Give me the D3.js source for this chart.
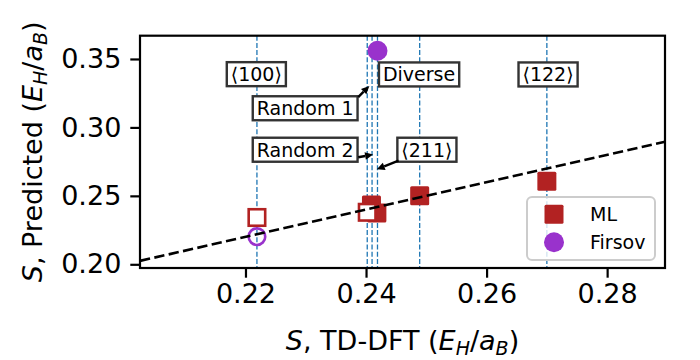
<!DOCTYPE html>
<html>
<head>
<meta charset="utf-8">
<script src="https://cdn.jsdelivr.net/npm/d3@7"></script>
<style>
  body { margin: 0; background: #fff; }
  svg text { font-family: "DejaVu Sans", sans-serif; }
</style>
</head>
<body>
<svg id="chart" width="700" height="360"></svg>
<script>
// ---- data ----
var xTicks = [0.22, 0.24, 0.26, 0.28];
var yTicks = [0.20, 0.25, 0.30, 0.35];

// ML predictions, filled squares
var mlX = [0.2409, 0.2418, 0.2489, 0.2700];
var mlY = [0.2433, 0.2375, 0.2501, 0.2607];
// ML, open squares
var mlOpenX = [0.2219, 0.2402];
var mlOpenY = [0.2342, 0.2380];
// Firsov, filled and open circles
var firsovX = [0.2419];
var firsovY = [0.3560];
var firsovOpenX = [0.2219];
var firsovOpenY = [0.2202];

// TD-DFT reference values (vertical guides)
var refX = [0.2219, 0.2402, 0.2410, 0.2419, 0.2489, 0.2700];

// parity line y = x
var parityX = [0.2025, 0.2896];

// labels: text centre, optional arrow (tail -> head), data coords
var labelText = ["\u27E8100\u27E9", "Diverse", "Random 1", "Random 2", "\u27E8211\u27E9", "\u27E8122\u27E9"];
var labelX = [0.2218, 0.2488, 0.2299, 0.2299, 0.2501, 0.2702];
var labelY = [0.3389, 0.3387, 0.3140, 0.2837, 0.2837, 0.3387];
var arrowFrom = [null, null, [0.2387, 0.3222], [0.2387, 0.2782], [0.2454, 0.2757], null];
var arrowTo = [null, null, [0.24055, 0.3303], [0.24117, 0.2802], [0.24178, 0.2694], null];

var legendNames = ["ML", "Firsov"];

// ---- layout ----
var svg = d3.select("#chart");
var plotL = 140, plotR = 665, plotT = 35.7, plotB = 268;
var red = "#b22222", purple = "#9932cc";

var x = d3.scaleLinear().domain([0.2025, 0.2896]).range([plotL, plotR]);
var y = d3.scaleLinear().domain([0.1973, 0.367]).range([plotB, plotT]);

var plot = svg.append("g");

// vertical guides
plot.selectAll("line.ref").data(refX).enter().append("line")
    .attr("class", "ref")
    .attr("x1", function(d) { return x(d); })
    .attr("x2", function(d) { return x(d); })
    .attr("y1", plotT).attr("y2", plotB)
    .style("stroke", "#1f77b4")
    .style("stroke-width", 1.3)
    .style("stroke-dasharray", "5,2.2");

var sq = 19;
// filled squares
plot.selectAll("rect.ml").data(mlX).enter().append("rect")
    .attr("class", "ml")
    .attr("x", function(d) { return x(d) - sq / 2; })
    .attr("y", function(d, i) { return y(mlY[i]) - sq / 2; })
    .attr("width", sq).attr("height", sq)
    .attr("rx", 1.5)
    .style("fill", red);

// open squares
var osq = 16.5;
plot.selectAll("rect.mlopen").data(mlOpenX).enter().append("rect")
    .attr("class", "mlopen")
    .attr("x", function(d) { return x(d) - osq / 2; })
    .attr("y", function(d, i) { return y(mlOpenY[i]) - osq / 2; })
    .attr("width", osq).attr("height", osq)
    .style("fill", "#fff")
    .style("stroke", red)
    .style("stroke-width", 2.6);

// circles
plot.selectAll("circle.firsov").data(firsovX).enter().append("circle")
    .attr("class", "firsov")
    .attr("cx", function(d) { return x(d); })
    .attr("cy", function(d, i) { return y(firsovY[i]); })
    .attr("r", 10)
    .style("fill", purple);

plot.selectAll("circle.firsovopen").data(firsovOpenX).enter().append("circle")
    .attr("class", "firsovopen")
    .attr("cx", function(d) { return x(d); })
    .attr("cy", function(d, i) { return y(firsovOpenY[i]); })
    .attr("r", 8.3)
    .style("fill", "none")
    .style("stroke", purple)
    .style("stroke-width", 2.6);

// parity line
plot.append("line")
    .attr("x1", x(parityX[0])).attr("y1", y(parityX[0]))
    .attr("x2", x(parityX[1])).attr("y2", y(parityX[1]))
    .style("stroke", "#000")
    .style("stroke-width", 2.6)
    .style("stroke-dasharray", "10.3,4.4");

// labels with boxes
var labels = plot.selectAll("g.label").data(labelText).enter().append("g")
    .attr("class", "label");

labels.each(function(d, i) {
    var g = d3.select(this);
    var t = g.append("text")
        .attr("x", x(labelX[i]))
        .attr("y", y(labelY[i]) + 6.8)
        .attr("text-anchor", "middle")
        .style("font-size", "19px")
        .text(d);
    var bb = t.node().getBBox();
    g.insert("rect", "text")
        .attr("x", bb.x - 4)
        .attr("y", y(labelY[i]) - 12)
        .attr("width", bb.width + 8)
        .attr("height", 24)
        .style("fill", "#fff")
        .style("stroke", "#333")
        .style("stroke-width", 2.4);
});

// arrows
arrowFrom.forEach(function(a, i) {
    if (!a) return;
    var b = arrowTo[i];
    var x1 = x(a[0]), y1 = y(a[1]), x2 = x(b[0]), y2 = y(b[1]);
    var ang = Math.atan2(y2 - y1, x2 - x1);
    var hl = 8, hw = 3.8;
    var bx = x2 - hl * Math.cos(ang), by = y2 - hl * Math.sin(ang);
    plot.append("line")
        .attr("x1", x1).attr("y1", y1).attr("x2", bx).attr("y2", by)
        .style("stroke", "#000").style("stroke-width", 2.4);
    var px = -Math.sin(ang) * hw, py = Math.cos(ang) * hw;
    plot.append("path")
        .attr("d", "M" + x2 + "," + y2 + "L" + (bx + px) + "," + (by + py) + "L" + (bx - px) + "," + (by - py) + "Z")
        .style("fill", "#000");
});

// axes
var xAxis = svg.append("g")
    .attr("transform", "translate(0," + plotB + ")")
    .call(d3.axisBottom(x).tickValues(xTicks).tickFormat(d3.format(".2f")).tickSize(9.7).tickPadding(6));
var yAxis = svg.append("g")
    .attr("transform", "translate(" + plotL + ",0)")
    .call(d3.axisLeft(y).tickValues(yTicks).tickFormat(d3.format(".2f")).tickSize(9.7).tickPadding(9));

[xAxis, yAxis].forEach(function(ax) {
    ax.select(".domain").remove();
    ax.selectAll(".tick line").style("stroke", "#000").style("stroke-width", 2.2);
    ax.selectAll(".tick text").style("font-size", "27px").style("fill", "#000")
        .style("font-family", "DejaVu Sans");
});

// frame
svg.append("rect")
    .attr("x", plotL).attr("y", plotT)
    .attr("width", plotR - plotL).attr("height", plotB - plotT)
    .style("fill", "none").style("stroke", "#000").style("stroke-width", 2.2);

// axis labels
function unitLabel(sel, middle) {
    sel.append("tspan").style("font-style", "italic").text("S");
    sel.append("tspan").text(middle + " (");
    sel.append("tspan").style("font-style", "italic").text("E");
    sel.append("tspan").style("font-style", "italic").style("font-size", "19px").attr("dy", 5).text("H");
    sel.append("tspan").attr("dy", -5).text("/");
    sel.append("tspan").style("font-style", "italic").text("a");
    sel.append("tspan").style("font-style", "italic").style("font-size", "19px").attr("dy", 5).text("B");
    sel.append("tspan").attr("dy", -5).text(")");
}

var xl = svg.append("text")
    .attr("x", (plotL + plotR) / 2).attr("y", 350)
    .attr("text-anchor", "middle")
    .style("font-size", "27px");
unitLabel(xl, ", TD-DFT");

var yl = svg.append("text")
    .attr("transform", "translate(42," + ((plotT + plotB) / 2) + ") rotate(-90)")
    .attr("text-anchor", "middle")
    .style("font-size", "27px");
unitLabel(yl, ", Predicted");

// legend
var lg = svg.append("g");
lg.append("rect")
    .attr("x", 527).attr("y", 197)
    .attr("width", 128).attr("height", 63)
    .attr("rx", 5)
    .style("fill", "#fff").style("fill-opacity", 0.8)
    .style("stroke", "#ccc").style("stroke-width", 2);
lg.append("rect")
    .attr("x", 554 - sq / 2).attr("y", 214.3 - sq / 2)
    .attr("width", sq).attr("height", sq).attr("rx", 1.5)
    .style("fill", red);
lg.append("circle")
    .attr("cx", 554).attr("cy", 242.3).attr("r", 10)
    .style("fill", purple);
lg.selectAll("text").data(legendNames).enter().append("text")
    .attr("x", 590)
    .attr("y", function(d, i) { return 221 + i * 28; })
    .style("font-size", "19px")
    .text(function(d) { return d; });
</script>
</body>
</html>
